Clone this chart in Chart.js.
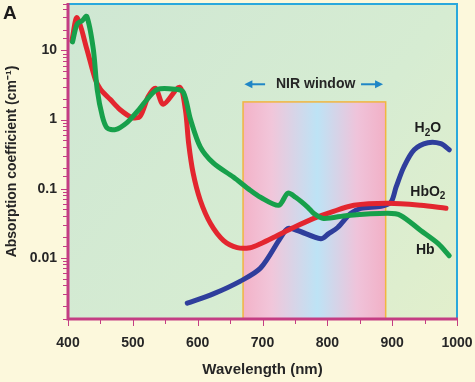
<!DOCTYPE html>
<html>
<head>
<meta charset="utf-8">
<script src="https://cdn.jsdelivr.net/npm/chart.js@4.4.1/dist/chart.umd.min.js"></script>
<style>
  html, body { margin: 0; padding: 0; background: #fcf8dc; }
  #wrap { width: 475px; height: 382px; position: relative; }
</style>
</head>
<body>
<div id="wrap"><canvas id="c" width="475" height="382"></canvas></div>
<script>
// ---- data ----
const hbo2Wavelength = [406, 414, 429, 442, 450, 465, 480, 499, 511, 524, 535, 547, 572, 581, 586, 593, 604, 620, 640, 661, 681, 697, 723, 748, 779, 805, 841, 893, 944, 983];
const hbo2Values = [13.8, 29.8, 10.5, 3.84, 2.74, 1.96, 1.40, 1.07, 1.11, 2.17, 2.84, 1.66, 2.93, 1.40, 0.46, 0.168, 0.068, 0.031, 0.0177, 0.0140, 0.0140, 0.0160, 0.0210, 0.0274, 0.0371, 0.0454, 0.0574, 0.0614, 0.0574, 0.0519];

const hbWavelength = [407, 414, 422, 429, 439, 445, 453, 460, 473, 491, 507, 522, 538, 566, 578, 589, 604, 624, 655, 681, 697, 725, 739, 751, 770, 779, 794, 831, 893, 913, 944, 971, 988];
const hbValues = [13.3, 24, 27, 31, 10.5, 2.74, 1.11, 0.764, 0.714, 0.904, 1.31, 1.96, 2.74, 2.74, 2.48, 1.0, 0.403, 0.236, 0.147, 0.095, 0.075, 0.0574, 0.086, 0.075, 0.0537, 0.0439, 0.0371, 0.041, 0.0439, 0.041, 0.0248, 0.016, 0.0107];

const h2oWavelength = [584, 624, 666, 697, 728, 739, 754, 790, 802, 816, 836, 852, 883, 898, 906, 918, 934, 955, 975, 988];
const h2oValues = [0.0022, 0.0030, 0.0046, 0.0071, 0.0196, 0.0265, 0.0248, 0.0189, 0.0224, 0.0274, 0.0439, 0.0519, 0.0556, 0.0635, 0.105, 0.206, 0.365, 0.461, 0.447, 0.365];

const xTickValues = [400, 500, 600, 700, 800, 900, 1000];
const xTickLabels = ['400', '500', '600', '700', '800', '900', '1000'];
const yTickValues = [0.01, 0.1, 1, 10];
const yTickLabels = ['0.01', '0.1', '1', '10'];

const nirRange = [670, 890];
const nirTop = 1.8;
const nirLabel = 'NIR window';
const nirLabelPos = [782, 3.24];
const nirArrows = [[704, 672], [852, 886]];

const curveLabels = ['H_2O', 'HbO_2', 'Hb'];
const curveLabelX = [955, 955, 951];
const curveLabelY = [0.74, 0.089, 0.0127];

const panelLetter = 'A';

// ---- helpers ----
const toXY = (xs, ys) => xs.map((x, i) => ({ x: x, y: ys[i] }));
const FONT = '"Liberation Sans", Arial, sans-serif';
const PINK = '#c43d83';
const CYAN = '#2aa8dc';
const TEXT = '#262626';

function drawSubText(ctx, str, cx, cy, size) {
  const parts = [];
  let i = 0;
  while (i < str.length) {
    if (str[i] === '_') { parts.push({ t: str[i + 1], sub: true }); i += 2; }
    else { parts.push({ t: str[i], sub: false }); i += 1; }
  }
  const big = 'bold ' + size + 'px ' + FONT;
  const small = 'bold ' + Math.round(size * 0.72) + 'px ' + FONT;
  let w = 0;
  parts.forEach(p => { ctx.font = p.sub ? small : big; p.w = ctx.measureText(p.t).width; w += p.w; });
  let x = cx - w / 2;
  ctx.textBaseline = 'middle';
  ctx.textAlign = 'left';
  parts.forEach(p => {
    ctx.font = p.sub ? small : big;
    ctx.fillText(p.t, x, p.sub ? cy + size * 0.3 : cy);
    x += p.w;
  });
}

const decorPlugin = {
  id: 'decor',
  beforeDraw(chart) {
    const { ctx, chartArea: a, scales } = chart;
    const xs = scales.x, ys = scales.y;
    ctx.save();
    ctx.fillStyle = '#fcf8dc';
    ctx.fillRect(0, 0, chart.width, chart.height);
    const g = ctx.createLinearGradient(a.left, a.top, a.right, a.bottom);
    g.addColorStop(0, '#cfe7d3');
    g.addColorStop(0.6, '#d6ecd2');
    g.addColorStop(1, '#e2efcc');
    ctx.fillStyle = g;
    ctx.fillRect(a.left, a.top, a.right - a.left, a.bottom - a.top);
    const x0 = xs.getPixelForValue(nirRange[0]);
    const x1 = xs.getPixelForValue(nirRange[1]);
    const yT = ys.getPixelForValue(nirTop);
    const ng = ctx.createLinearGradient(x0, 0, x1, 0);
    ng.addColorStop(0, '#f3b2c8');
    ng.addColorStop(0.2, '#f1c6da');
    ng.addColorStop(0.52, '#bde3f5');
    ng.addColorStop(0.8, '#efc3da');
    ng.addColorStop(1, '#f2b0c6');
    ctx.fillStyle = ng;
    ctx.fillRect(x0, yT, x1 - x0, a.bottom - yT);
    ctx.strokeStyle = '#f0b640';
    ctx.lineWidth = 1.5;
    ctx.strokeRect(x0, yT, x1 - x0, a.bottom - yT);
    ctx.restore();
  },
  afterDraw(chart) {
    const { ctx, chartArea: a, scales } = chart;
    const xs = scales.x, ys = scales.y;
    ctx.save();
    ctx.strokeStyle = CYAN;
    ctx.lineWidth = 2;
    ctx.beginPath();
    ctx.moveTo(a.left, a.top);
    ctx.lineTo(a.right, a.top);
    ctx.lineTo(a.right, a.bottom);
    ctx.stroke();
    ctx.strokeStyle = PINK;
    ctx.lineWidth = 3;
    ctx.beginPath();
    ctx.moveTo(a.left, a.top - 1);
    ctx.lineTo(a.left, a.bottom);
    ctx.lineTo(a.right + 1, a.bottom);
    ctx.stroke();
    ctx.lineWidth = 1;
    ys.ticks.forEach(t => {
      const y = Math.round(ys.getPixelForValue(t.value)) + 0.5;
      if (y < a.top - 1 || y > a.bottom + 1) return;
      const major = yTickValues.some(v => Math.abs(v - t.value) / v < 1e-6);
      ctx.beginPath();
      ctx.moveTo(a.left - 1, y);
      ctx.lineTo(a.left - (major ? 7 : 5), y);
      ctx.stroke();
    });
    for (let v = xs.min; v <= xs.max; v += 50) {
      const x = Math.round(xs.getPixelForValue(v)) + 0.5;
      const major = xTickValues.includes(v);
      ctx.beginPath();
      ctx.moveTo(x, a.bottom + 1);
      ctx.lineTo(x, a.bottom + (major ? 7 : 5));
      ctx.stroke();
    }
    const ly = ys.getPixelForValue(nirLabelPos[1]);
    ctx.fillStyle = TEXT;
    ctx.font = 'bold 14px ' + FONT;
    ctx.textAlign = 'center';
    ctx.textBaseline = 'middle';
    ctx.fillText(nirLabel, xs.getPixelForValue(nirLabelPos[0]), ly);
    ctx.strokeStyle = '#1f86c6';
    ctx.fillStyle = '#1f86c6';
    ctx.lineWidth = 2;
    nirArrows.forEach(([from, to]) => {
      const xa = xs.getPixelForValue(from), xb = xs.getPixelForValue(to);
      const dir = Math.sign(xb - xa);
      ctx.beginPath();
      ctx.moveTo(xa, ly);
      ctx.lineTo(xb - dir * 5, ly);
      ctx.stroke();
      ctx.beginPath();
      ctx.moveTo(xb, ly);
      ctx.lineTo(xb - dir * 8, ly - 4);
      ctx.lineTo(xb - dir * 8, ly + 4);
      ctx.closePath();
      ctx.fill();
    });
    ctx.fillStyle = '#1d1d1d';
    curveLabels.forEach((s, i) => {
      drawSubText(ctx, s, xs.getPixelForValue(curveLabelX[i]), ys.getPixelForValue(curveLabelY[i]), 14);
    });
    ctx.font = 'bold 19px ' + FONT;
    ctx.textAlign = 'left';
    ctx.textBaseline = 'middle';
    ctx.fillStyle = '#1b1b1b';
    ctx.fillText(panelLetter, 3, 14);
    ctx.restore();
  }
};

const lineStyle = (color) => ({
  borderColor: color,
  backgroundColor: color,
  borderWidth: 5,
  pointRadius: 0,
  tension: 0.3,
  borderCapStyle: 'round',
  borderJoinStyle: 'round',
  fill: false
});

new Chart(document.getElementById('c'), {
  type: 'line',
  data: {
    datasets: [
      Object.assign({ label: 'Hb', data: toXY(hbWavelength, hbValues) }, lineStyle('#17a04b')),
      Object.assign({ label: 'HbO2', data: toXY(hbo2Wavelength, hbo2Values) }, lineStyle('#e3262f')),
      Object.assign({ label: 'H2O', data: toXY(h2oWavelength, h2oValues) }, lineStyle('#2f3e9c'))
    ]
  },
  options: {
    responsive: false,
    animation: false,
    devicePixelRatio: 1,
    layout: { padding: { top: 4, right: 18, left: 0, bottom: 0 } },
    plugins: { legend: { display: false }, tooltip: { enabled: false } },
    scales: {
      x: {
        type: 'linear',
        min: 400,
        max: 1000,
        grid: { display: false, drawTicks: false },
        border: { display: false },
        afterBuildTicks: (s) => { s.ticks = xTickValues.map(v => ({ value: v })); },
        afterFit: (s) => { s.height = 63; s.paddingLeft = 0; s.paddingRight = 0; },
        ticks: {
          padding: 16,
          color: TEXT,
          font: { family: FONT, size: 14, weight: 'bold' },
          maxRotation: 0,
          autoSkip: false,
          callback: (v) => {
            const i = xTickValues.indexOf(v);
            return i >= 0 ? xTickLabels[i] : '';
          }
        },
        title: {
          display: true,
          text: 'Wavelength (nm)',
          color: TEXT,
          font: { family: FONT, size: 15, weight: 'bold' },
          padding: { top: 0, bottom: 3 }
        }
      },
      y: {
        type: 'logarithmic',
        min: 0.0013,
        max: 47,
        grid: { display: false, drawTicks: false },
        border: { display: false },
        afterFit: (s) => { s.width = 68; s.paddingTop = 0; s.paddingBottom = 0; },
        ticks: {
          padding: 11,
          color: TEXT,
          autoSkip: false,
          font: { family: FONT, size: 14, weight: 'bold' },
          callback: (v) => {
            const i = yTickValues.findIndex(t => Math.abs(t - v) / t < 1e-6);
            return i >= 0 ? yTickLabels[i] : '';
          }
        },
        title: {
          display: true,
          text: 'Absorption coefficient (cm⁻¹)',
          color: TEXT,
          font: { family: FONT, size: 14, weight: 'bold' },
          padding: { top: 4, bottom: 0 }
        }
      }
    }
  },
  plugins: [decorPlugin]
});
</script>
</body>
</html>
